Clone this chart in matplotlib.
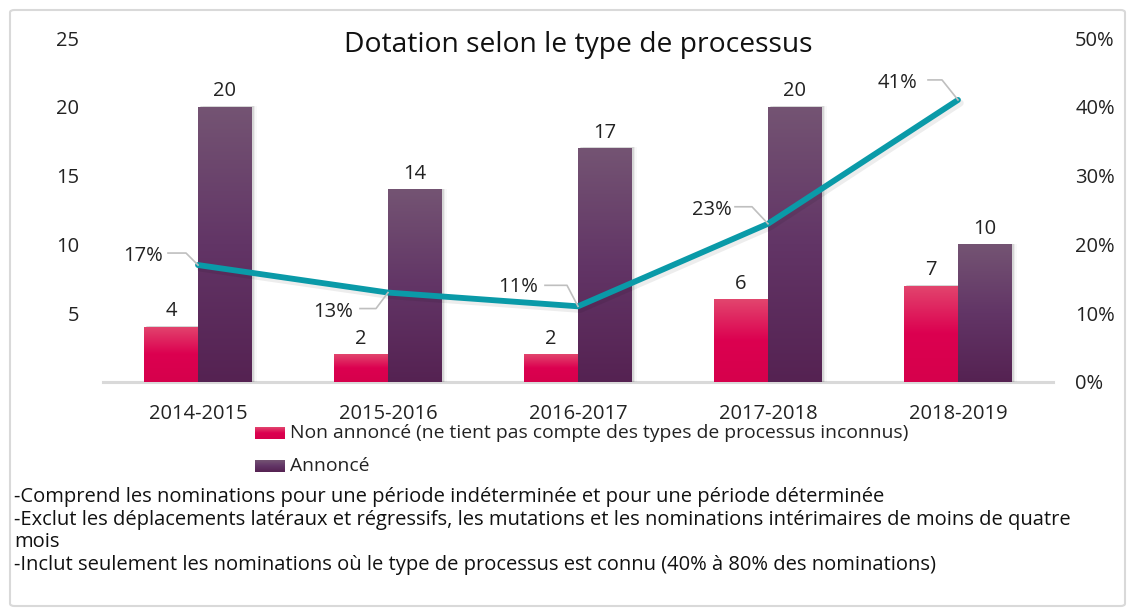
import numpy as np
import matplotlib
matplotlib.use("Agg")
import matplotlib.pyplot as plt
from matplotlib.patches import Rectangle, FancyBboxPatch
from matplotlib.lines import Line2D
from matplotlib.transforms import IdentityTransform
from matplotlib.colors import LinearSegmentedColormap

categories = ["2014-2015", "2015-2016", "2016-2017", "2017-2018", "2018-2019"]
non_annonce = [4, 2, 2, 6, 7]
annonce = [20, 14, 17, 20, 10]
pct = [17, 13, 11, 23, 41]
left_ticks = [5, 10, 15, 20, 25]
right_ticks = [0, 10, 20, 30, 40, 50]
title = "Dotation selon le type de processus"
legend_labels = ["Non annoncé (ne tient pas compte des types de processus inconnus)", "Annoncé"]
notes = ["-Comprend les nominations pour une période indéterminée et pour une période déterminée",
         "-Exclut les déplacements latéraux et régressifs, les mutations et les nominations intérimaires de moins de quatre",
         "mois",
         "-Inclut seulement les nominations où le type de processus est connu (40% à 80% des nominations)"]

plt.rcParams['font.family'] = ['Open Sans', 'DejaVu Sans']
FS = 14.5

W, H = 1134, 616
fig = plt.figure(figsize=(W/100, H/100), dpi=100)
fig.patch.set_facecolor('white')
fig.add_artist(FancyBboxPatch((10/W, 10/H), 1115/W, 596/H, boxstyle="round,pad=0,rounding_size=0.004",
                              transform=fig.transFigure, fc='none', ec='#d9d9d9', lw=1.5))

ax = fig.add_axes([103/W, (H-382)/H, 950/W, 344/H])
ax2 = ax.twinx()
ax.set_xlim(-0.5, 4.5)
ax.set_ylim(0, 25)
ax2.set_ylim(0, 50)
for a in (ax, ax2):
    for s in a.spines.values():
        s.set_visible(False)
ax.axhline(0, color='#d9d9d9', lw=2.2, zorder=1, clip_on=False)

pink_cmap = LinearSegmentedColormap.from_list('p', ['#e2466e', '#dc0050', '#d6004c'])
purp_cmap = LinearSegmentedColormap.from_list('u', ['#745473', '#623566', '#552252'])
grad = np.linspace(0, 1, 256).reshape(-1, 1)

bw = 0.284
x = np.arange(len(categories))

def gbar(xc, h, cmap):
    x0 = xc - bw/2
    for k, al in [(0.010, 0.09), (0.018, 0.05), (0.026, 0.025)]:
        ax.add_patch(Rectangle((x0 + k, 0), bw, h + 0.05, fc='#000000', ec='none', alpha=al, zorder=1.5))
    rect = Rectangle((x0, 0), bw, h, fc='none', ec='none', zorder=2)
    ax.add_patch(rect)
    im = ax.imshow(grad, extent=(x0, x0 + bw, 0, h), aspect='auto', cmap=cmap, origin='upper', zorder=2)
    im.set_clip_path(rect)

for i in x:
    gbar(i - bw/2, non_annonce[i], pink_cmap)
    gbar(i + bw/2, annonce[i], purp_cmap)
    ax.text(i - bw/2, non_annonce[i] + 0.4, str(non_annonce[i]), ha='center', va='bottom', fontsize=FS, color='#222222')
    ax.text(i + bw/2, annonce[i] + 0.4, str(annonce[i]), ha='center', va='bottom', fontsize=FS, color='#222222')

ax.set_xlim(-0.5, 4.5)
ax.set_ylim(0, 25)
ax.set_xticks(x)
ax.set_xticklabels(categories, fontsize=FS, color='#222222')
ax.set_yticks(left_ticks)
ax.set_yticklabels([str(t) for t in left_ticks], fontsize=FS, color='#222222')
ax.tick_params(axis='x', length=0, pad=16)
ax.tick_params(axis='y', length=0, pad=17)
ax2.set_yticks(right_ticks)
ax2.set_yticklabels([f"{t}%" for t in right_ticks], fontsize=FS, color='#222222')
ax2.tick_params(axis='y', length=0, pad=16)

# line with soft shadow
ax2.plot(x + 0.012, np.array(pct) - 0.45, color='#000000', alpha=0.07, lw=5, solid_capstyle='round', zorder=3)
ax2.plot(x, pct, color='#0a9aa8', lw=4.2, solid_capstyle='round', solid_joinstyle='round', zorder=4)

# data labels with leader lines (pixel offsets)
offs = [(-55, 9, -30, -12, 12), (-55, -19, -28, -12, -16), (-60, 19, -33, -11, 21), (-56, 14, -33, -16, 17), (-60, 17, -30, -16, 20)]
for i, (tdx, tdy, lx, ex, ey) in enumerate(offs):
    px, py = ax2.transData.transform((x[i], pct[i]))
    fig.add_artist(Line2D([px + lx, px + ex, px], [py + ey, py + ey, py], transform=IdentityTransform(),
                          color='#bfbfbf', lw=1.2, zorder=5))
    fig.text((px + tdx)/W, (py + tdy)/H, f"{pct[i]}%", ha='center', va='center', fontsize=FS, color='#222222')

fig.text(578/W, (H-45)/H, title, ha='center', va='center', fontsize=20.3, color='#111111')

# legend
for j, (lab, cm, yy) in enumerate(zip(legend_labels, [pink_cmap, purp_cmap], [433, 466])):
    lax = fig.add_axes([255/W, (H-yy-6)/H, 30/W, 12/H])
    lax.imshow(grad, aspect='auto', cmap=cm, extent=(0, 1, 0, 1))
    lax.set_axis_off()
    fig.text(290/W, (H-yy)/H, lab, ha='left', va='center', fontsize=13.9, color='#222222')

for k, (line, yy) in enumerate(zip(notes, [497, 520, 542, 565])):
    fig.text(14/W, (H-yy)/H, line, ha='left', va='center', fontsize=FS, color='#111111')

fig.savefig('out.png', dpi=100)
